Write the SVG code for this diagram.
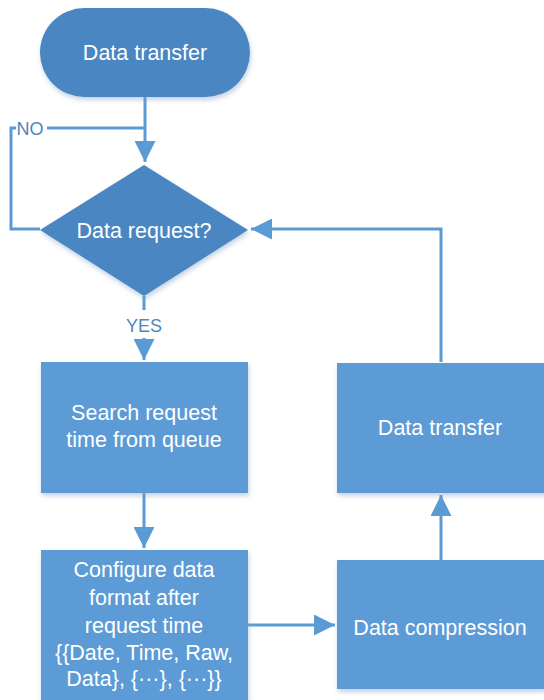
<svg xmlns="http://www.w3.org/2000/svg" width="544" height="700" viewBox="0 0 544 700">
<defs>
<filter id="sh" x="-10%" y="-10%" width="130%" height="130%">
<feDropShadow dx="1" dy="3" stdDeviation="2.5" flood-color="#7a9cc0" flood-opacity="0.45"/>
</filter>
<marker id="ah" viewBox="0 0 10 10" refX="10" refY="5" markerWidth="7.5" markerHeight="7" markerUnits="strokeWidth" orient="auto">
<path d="M0,0 L10,5 L0,10 Z" fill="#5b9bd5"/>
</marker>
<style>
.box{fill:#5b9bd5;filter:url(#sh)}
.dark{fill:#4a86c2;filter:url(#sh)}
.t{font-family:"Liberation Sans","Noto Sans",sans-serif;font-size:21.5px;fill:#ffffff;text-anchor:middle}
.lbl{font-family:"Liberation Sans","Noto Sans",sans-serif;font-size:18px;fill:#4f86bd;text-anchor:middle}
.c{fill:none;stroke:#5b9bd5;stroke-width:3}
</style>
</defs>
<rect width="544" height="700" fill="#ffffff"/>
<g id="connectors">
<path class="c" d="M145,97 V162" marker-end="url(#ah)"/>
<path class="c" d="M145,128 H47"/>
<path class="c" d="M16,128 H11 V229 H40"/>
<path class="c" d="M144,296 V310"/>
<path class="c" d="M144,338 V360" marker-end="url(#ah)"/>
<path class="c" d="M144,493 V548" marker-end="url(#ah)"/>
<path class="c" d="M248,625 H335" marker-end="url(#ah)"/>
<path class="c" d="M441,560 V495" marker-end="url(#ah)"/>
<path class="c" d="M441,362 V229 H251" marker-end="url(#ah)"/>
</g>
<g id="label-no"><text class="lbl" x="30" y="135">NO</text></g>
<g id="label-yes"><text class="lbl" x="144" y="332">YES</text></g>
<g id="start">
<rect class="dark" x="40" y="8" width="210" height="89" rx="44.5"/>
<text class="t" x="145" y="60">Data transfer</text>
</g>
<g id="decision">
<polygon class="dark" points="144,165 248,230 144,296 40,230"/>
<text class="t" x="144" y="238">Data request?</text>
</g>
<g id="search">
<rect class="box" x="41" y="362" width="207" height="131"/>
<text class="t" x="144" y="420">Search request</text>
<text class="t" x="144" y="447">time from queue</text>
</g>
<g id="configure">
<rect class="box" x="41" y="550" width="207" height="152"/>
<text class="t" x="144" y="577">Configure data</text>
<text class="t" x="144" y="605">format after</text>
<text class="t" x="144" y="633">request time</text>
<text class="t" x="144" y="660">{{Date, Time, Raw,</text>
<text class="t" x="144" y="686">Data}, {···},  {···}}</text>
</g>
<g id="transfer">
<rect class="box" x="337" y="363" width="210" height="130"/>
<text class="t" x="440" y="435">Data transfer</text>
</g>
<g id="compression">
<rect class="box" x="337" y="560" width="210" height="129"/>
<text class="t" x="440" y="635">Data compression</text>
</g>
</svg>
